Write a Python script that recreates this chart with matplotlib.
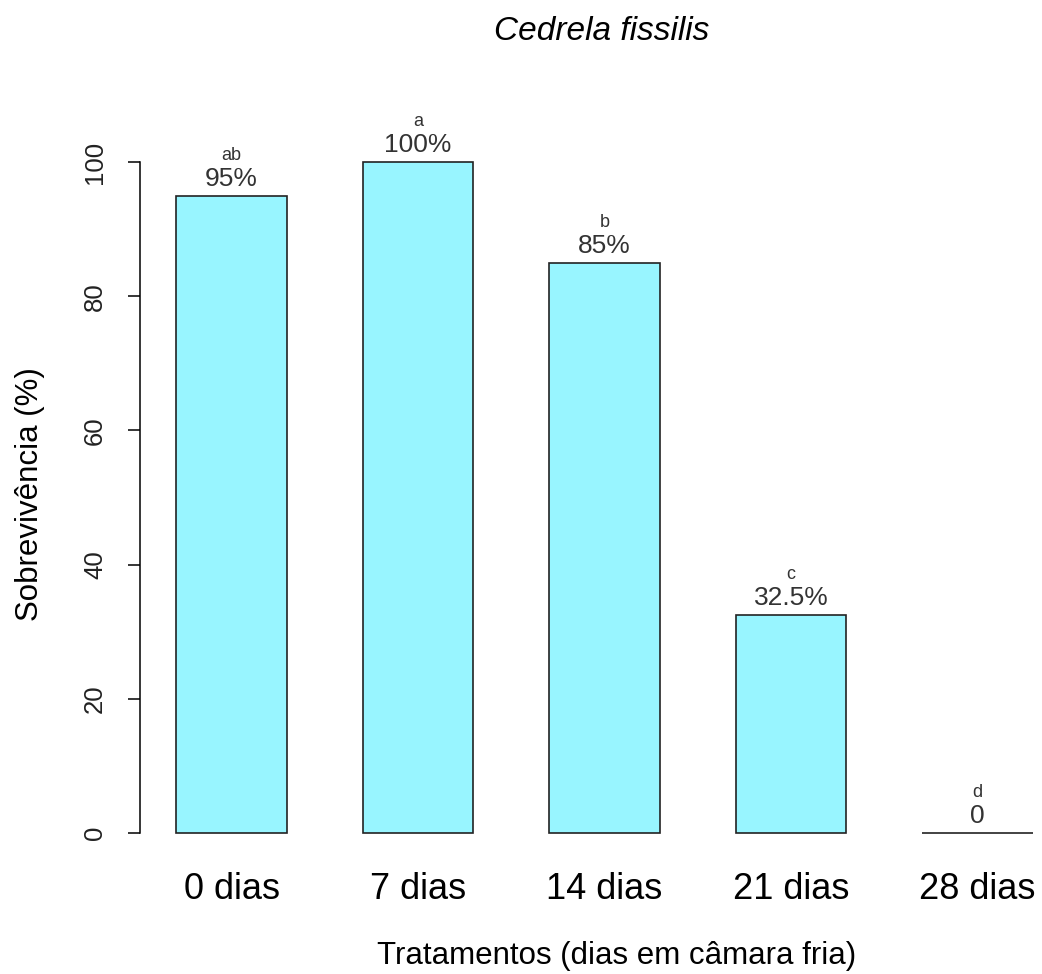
import numpy as np
import matplotlib.pyplot as plt

plt.rcParams["font.family"] = ["Liberation Sans", "DejaVu Sans"]

# survival per cold-storage treatment
tratamentos = ["0 dias", "7 dias", "14 dias", "21 dias", "28 dias"]
sobrevivencia = [95, 100, 85, 32.5, 0]
rotulos = ["95%", "100%", "85%", "32.5%", "0"]
letras = ["ab", "a", "b", "c", "d"]

W, H = 1042, 974
fig = plt.figure(figsize=(W / 100, H / 100), dpi=100)

# plot region in pixels: y axis at x=140, value 0 at y=833, value 100 at y=162
ax = fig.add_axes([140 / W, (H - 833) / H, 900 / W, 671 / H])

x = np.arange(len(tratamentos))
bars = ax.bar(x, sobrevivencia, width=0.595, color="#98F5FF",
              edgecolor="#222222", linewidth=1.2, clip_on=False, zorder=2)

for xi, v, lab, let in zip(x, sobrevivencia, rotulos, letras):
    ax.annotate(lab, (xi, v), xytext=(0, 3.5), textcoords="offset points",
                ha="center", va="bottom", fontsize=19, color="#333333")
    ax.annotate(let, (xi, v), xytext=(0, 23), textcoords="offset points",
                ha="center", va="bottom", fontsize=13, color="#333333")

ax.set_xlim(-91.5 / 186.5, (1040 - 231.5) / 186.5)
ax.set_ylim(0, 100)
ax.set_yticks([0, 20, 40, 60, 80, 100])
ax.set_xticks(x)
ax.set_xticklabels(tratamentos, fontsize=26)

for side in ("top", "right", "bottom"):
    ax.spines[side].set_visible(False)
ax.spines["left"].set_linewidth(1.1)
ax.tick_params(axis="x", length=0, pad=28)
ax.tick_params(axis="y", length=8.6, width=1.1, pad=15, labelsize=18.5,
               labelrotation=90, labelcolor="#222222")
for t in ax.get_yticklabels():
    t.set_verticalalignment("center")

fig.text(602 / W, 1 - 31 / H, "Cedrela fissilis", ha="center", va="center",
         fontsize=24, style="italic")
fig.text(617 / W, 1 - 956 / H, "Tratamentos (dias em câmara fria)",
         ha="center", va="center", fontsize=22.5)
fig.text(30 / W, 1 - 494 / H, "Sobrevivência (%)", ha="center", va="center",
         fontsize=22.5, rotation=90)

fig.savefig("out.png", dpi=100)
